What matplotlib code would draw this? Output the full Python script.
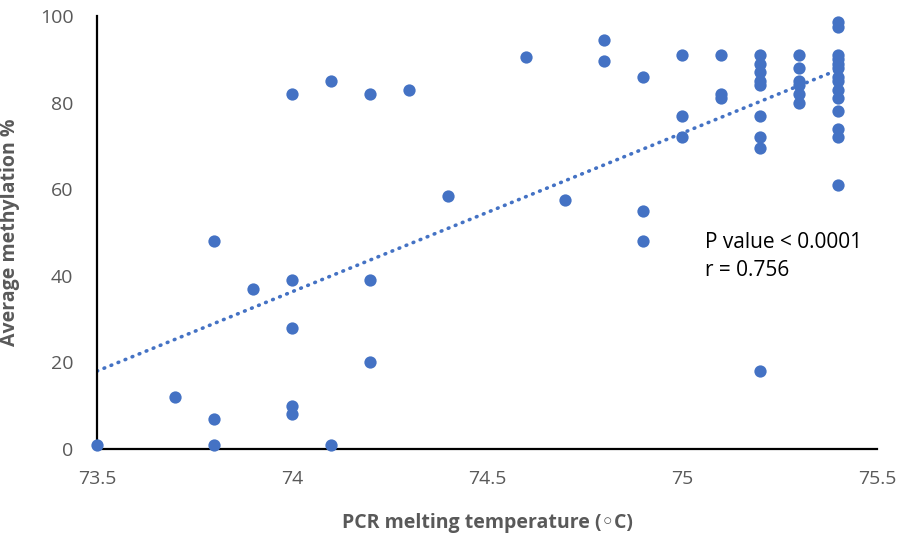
import numpy as np
import matplotlib
matplotlib.use("Agg")
import matplotlib.pyplot as plt
from matplotlib.ticker import FuncFormatter

# Data
temp = [73.5,
        73.7,
        73.8, 73.8, 73.8,
        73.9,
        74.0, 74.0, 74.0, 74.0, 74.0,
        74.1, 74.1,
        74.2, 74.2, 74.2,
        74.3,
        74.4,
        74.6,
        74.7,
        74.8, 74.8,
        74.9, 74.9, 74.9,
        75.0, 75.0, 75.0,
        75.1, 75.1, 75.1,
        75.2, 75.2, 75.2, 75.2, 75.2, 75.2, 75.2, 75.2, 75.2,
        75.3, 75.3, 75.3, 75.3, 75.3, 75.3,
        75.4, 75.4, 75.4, 75.4, 75.4, 75.4, 75.4, 75.4, 75.4, 75.4, 75.4, 75.4, 75.4, 75.4]
methylation = [1,
               12,
               48, 7, 1,
               37,
               82, 39, 28, 10, 8,
               85, 1,
               82, 39, 20,
               83,
               58.5,
               90.5,
               57.5,
               94.5, 89.5,
               86, 55, 48,
               91, 77, 72,
               91, 82, 81,
               91, 89, 87, 85, 84, 77, 72, 69.5, 18,
               91, 88, 85, 84, 82, 80,
               98.5, 97.5, 91, 90, 89, 88, 86, 85, 83, 81, 78, 74, 72, 61]

x_ticks = [73.5, 74, 74.5, 75, 75.5]
y_ticks = [0, 20, 40, 60, 80, 100]
annotation = ["P value < 0.0001", "r = 0.756"]

BLUE = "#4472C4"
GRAY = "#595959"

plt.rcParams['font.family'] = ['Open Sans', 'DejaVu Sans']

fig = plt.figure(figsize=(9.06, 5.36), dpi=100)
ax = fig.add_axes([97/906, 1 - 449/536, 780/906, 433/536])

x = np.array(temp)
y = np.array(methylation)
ax.scatter(x, y, s=78, color=BLUE, zorder=3, linewidths=0, clip_on=False)

# Linear trendline
slope, intercept = np.polyfit(x, y, 1)
xt = np.array([x.min(), x.max()])
ax.plot(xt, slope * xt + intercept, color=BLUE, lw=2.6,
        linestyle=(0, (0.2, 1.9)), dash_capstyle='round', zorder=2)

ax.set_xlim(73.5, 75.5)
ax.set_ylim(0, 100)
ax.set_xticks(x_ticks)
ax.set_yticks(y_ticks)
ax.xaxis.set_major_formatter(FuncFormatter(lambda v, p: f"{v:g}"))
ax.tick_params(length=0, labelsize=14, colors=GRAY)
ax.tick_params(axis='x', pad=15)
ax.tick_params(axis='y', pad=17)

for s in ['top', 'right']:
    ax.spines[s].set_visible(False)
for s in ['left', 'bottom']:
    ax.spines[s].set_color('black')
    ax.spines[s].set_linewidth(1.6)

ax.set_xlabel("PCR melting temperature (◦C)", fontsize=14, fontweight='bold',
              color=GRAY, labelpad=18)
ax.set_ylabel("Average methylation %", fontsize=14, fontweight='bold',
              color=GRAY, labelpad=14)

ax.text(75.058, 47.8, annotation[0], fontsize=15, color='black', va='center', ha='left')
ax.text(75.058, 41.2, annotation[1], fontsize=15, color='black', va='center', ha='left')

fig.savefig("out.png", dpi=100)
